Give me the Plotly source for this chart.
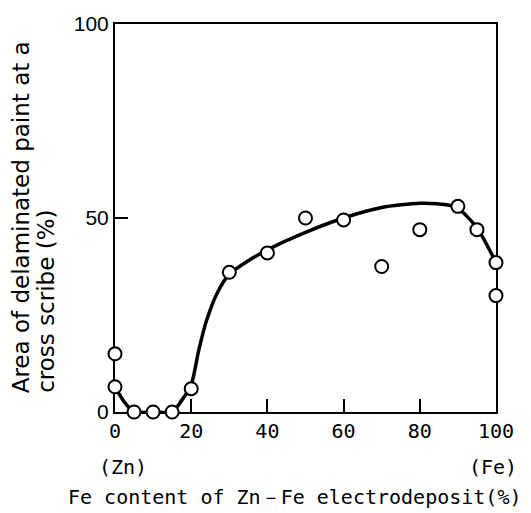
import plotly.graph_objects as go

# Measured points: Fe content (%) vs. delaminated area (%)
fe_content = [0, 0, 5, 10, 15, 20, 30, 40, 50, 60, 70, 80, 90, 95, 100, 100]
delaminated = [15, 6.5, 0, 0, 0, 6, 36, 41, 50, 49.5, 37.5, 47, 53, 47, 38.5, 30]

# Hand-fitted trend curve through the data
curve_x = [0, 2.5, 5, 10, 15, 17.5, 20, 22, 24, 27, 30, 35, 40, 50, 60, 70, 80, 87, 90, 95, 100]
curve_y = [6.5, 2.5, 0, 0, 0, 3, 7, 16, 23.5, 31, 35.5, 39, 41.8, 46.3, 50, 52.7, 53.8, 53.4, 52.5, 47.5, 38.5]

x_ticks = [0, 20, 40, 60, 80, 100]
y_ticks = [0, 50, 100]

fig = go.Figure()

fig.add_trace(go.Scatter(
    x=curve_x, y=curve_y, mode="lines",
    line=dict(color="black", width=3.5, shape="spline", smoothing=0.7),
    hoverinfo="skip", showlegend=False,
))

fig.add_trace(go.Scatter(
    x=fe_content, y=delaminated, mode="markers",
    marker=dict(symbol="circle", size=13, color="white",
                line=dict(color="black", width=2)),
    cliponaxis=False, showlegend=False,
))

fig.update_xaxes(
    range=[0, 100], tickvals=x_ticks, ticks="inside", ticklen=13,
    tickwidth=1.8, tickcolor="black", showline=True, linewidth=2.4,
    linecolor="black", mirror=True, showgrid=False, zeroline=False,
    layer="below traces",
    tickfont=dict(family="DejaVu Sans Mono", size=20, color="black"),
)
fig.update_yaxes(
    range=[0, 100], tickvals=y_ticks, ticks="inside", ticklen=13,
    tickwidth=1.8, tickcolor="black", showline=True, linewidth=2,
    linecolor="black", mirror=True, showgrid=False, zeroline=False,
    layer="below traces",
    tickfont=dict(family="Liberation Sans", size=21, color="black"),
)

mono = dict(family="DejaVu Sans Mono", size=20, color="black")
sans = dict(family="DejaVu Sans", size=23, color="black")

annotations = [
    dict(text="(Zn)", x=2.1, y=-0.142, xref="x", yref="paper",
         xanchor="center", yanchor="middle", showarrow=False, font=mono),
    dict(text="(Fe)", x=99.2, y=-0.142, xref="x", yref="paper",
         xanchor="center", yanchor="middle", showarrow=False, font=mono),
    dict(text="Fe content of Zn－Fe electrodeposit(%)", x=0.472, y=-0.218,
         xref="paper", yref="paper", xanchor="center", yanchor="middle",
         showarrow=False, font=mono),
    dict(text="Area of delaminated paint at a", x=-0.2467, y=0.043,
         xref="paper", yref="paper", xanchor="center", yanchor="bottom",
         textangle=-90, showarrow=False, font=sans),
    dict(text="cross scribe (%)", x=-0.1811, y=0.043,
         xref="paper", yref="paper", xanchor="center", yanchor="bottom",
         textangle=-90, showarrow=False, font=sans),
]

fig.update_layout(
    width=531, height=513,
    margin=dict(l=115, r=35, t=17, b=101),
    paper_bgcolor="white", plot_bgcolor="white",
    annotations=annotations,
)

fig.write_html("out.html")
